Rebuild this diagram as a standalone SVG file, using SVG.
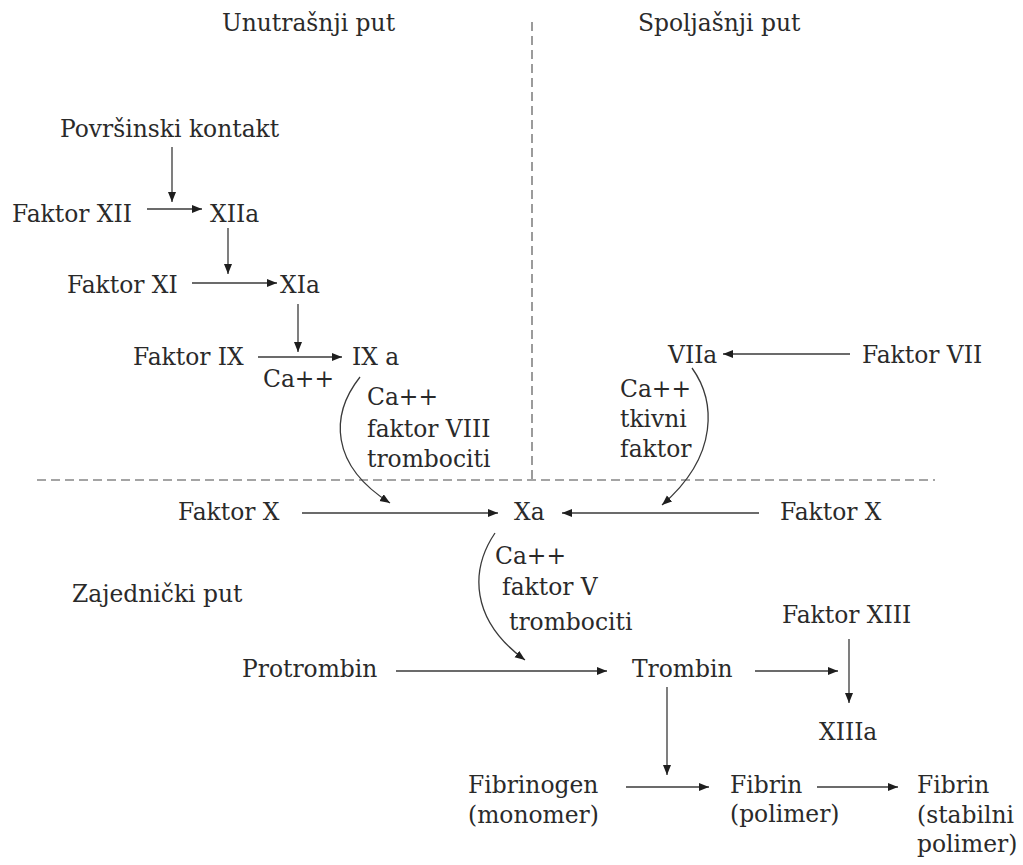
<svg xmlns="http://www.w3.org/2000/svg" width="1023" height="865" viewBox="0 0 1023 865">
  <style>
    text { font-family: "DejaVu Serif", "Liberation Serif", serif; font-size: 23.4px; fill: #2a2a2a; }
    .link { fill: none; stroke: #3a3a3a; stroke-width: 1.3; marker-end: url(#arrow); }
    .divider { fill: none; stroke: #4a4a4a; stroke-width: 1.1; stroke-dasharray: 9 5; }
  </style>
  <defs>
    <marker id="arrow" markerUnits="userSpaceOnUse" markerWidth="11" markerHeight="9" refX="10" refY="4" orient="auto">
      <path d="M0,0 L10,4 L0,8 z" fill="#1e1e1e"/>
    </marker>
  </defs>

  <rect width="1023" height="865" fill="#ffffff"/>

  <!-- pathway dividers -->
  <g id="dividers">
    <line class="divider" x1="532" y1="22" x2="532" y2="479"/>
    <line class="divider" x1="37" y1="480" x2="935" y2="480"/>
  </g>

  <!-- section titles -->
  <g id="titles">
    <text x="222" y="31">Unutrašnji put</text>
    <text x="638" y="31">Spoljašnji put</text>
    <text x="72" y="602">Zajednički put</text>
  </g>

  <!-- connectors -->
  <g id="connectors">
    <line class="link" x1="172" y1="147" x2="172" y2="202"/>
    <line class="link" x1="147" y1="209" x2="202" y2="209"/>
    <line class="link" x1="228" y1="228" x2="228" y2="274"/>
    <line class="link" x1="192" y1="283" x2="277" y2="283"/>
    <line class="link" x1="298" y1="304" x2="298" y2="352"/>
    <line class="link" x1="258" y1="357" x2="342" y2="357"/>
    <line class="link" x1="850" y1="354" x2="723" y2="354"/>
    <path class="link" d="M360,377 C330,415 330,465 390,503"/>
    <path class="link" d="M692,368 C715,400 720,455 662,505"/>
    <line class="link" x1="302" y1="513" x2="498" y2="513"/>
    <line class="link" x1="759" y1="513" x2="562" y2="513"/>
    <path class="link" d="M495,533 C470,570 470,620 525,660"/>
    <line class="link" x1="396" y1="671" x2="607" y2="671"/>
    <line class="link" x1="755" y1="671" x2="838" y2="671"/>
    <line class="link" x1="849" y1="639" x2="849" y2="703"/>
    <line class="link" x1="667" y1="687" x2="667" y2="775"/>
    <line class="link" x1="626" y1="787" x2="709" y2="787"/>
    <line class="link" x1="817" y1="787" x2="898" y2="787"/>
  </g>

  <!-- intrinsic pathway -->
  <g id="povrsinski-kontakt"><text x="60" y="137">Površinski kontakt</text></g>
  <g id="faktor-xii"><text x="12" y="222">Faktor XII</text></g>
  <g id="xiia"><text x="210" y="222">XIIa</text></g>
  <g id="faktor-xi"><text x="67" y="293">Faktor XI</text></g>
  <g id="xia"><text x="280" y="293">XIa</text></g>
  <g id="faktor-ix"><text x="133" y="365">Faktor IX</text></g>
  <g id="ixa"><text x="352" y="365">IX a</text></g>
  <g id="ca-ix"><text x="263" y="387">Ca++</text></g>
  <g id="cofactors-ixa">
    <text x="367" y="405">Ca++</text>
    <text x="367" y="437">faktor VIII</text>
    <text x="367" y="467">trombociti</text>
  </g>

  <!-- extrinsic pathway -->
  <g id="viia"><text x="668" y="363">VIIa</text></g>
  <g id="faktor-vii"><text x="862" y="363">Faktor VII</text></g>
  <g id="cofactors-viia">
    <text x="620" y="397">Ca++</text>
    <text x="620" y="427">tkivni</text>
    <text x="620" y="457">faktor</text>
  </g>

  <!-- common pathway -->
  <g id="faktor-x-left"><text x="178" y="520">Faktor X</text></g>
  <g id="xa"><text x="514" y="520">Xa</text></g>
  <g id="faktor-x-right"><text x="780" y="520">Faktor X</text></g>
  <g id="cofactors-xa">
    <text x="495" y="564">Ca++</text>
    <text x="502" y="595">faktor V</text>
    <text x="509" y="630">trombociti</text>
  </g>
  <g id="protrombin"><text x="242" y="677">Protrombin</text></g>
  <g id="trombin"><text x="632" y="677">Trombin</text></g>
  <g id="faktor-xiii"><text x="782" y="623">Faktor XIII</text></g>
  <g id="xiiia"><text x="819" y="740">XIIIa</text></g>
  <g id="fibrinogen">
    <text x="468" y="793">Fibrinogen</text>
    <text x="468" y="823">(monomer)</text>
  </g>
  <g id="fibrin-polimer">
    <text x="730" y="793">Fibrin</text>
    <text x="730" y="822">(polimer)</text>
  </g>
  <g id="fibrin-stabilni">
    <text x="917" y="793">Fibrin</text>
    <text x="917" y="823">(stabilni</text>
    <text x="917" y="852">polimer)</text>
  </g>
</svg>
